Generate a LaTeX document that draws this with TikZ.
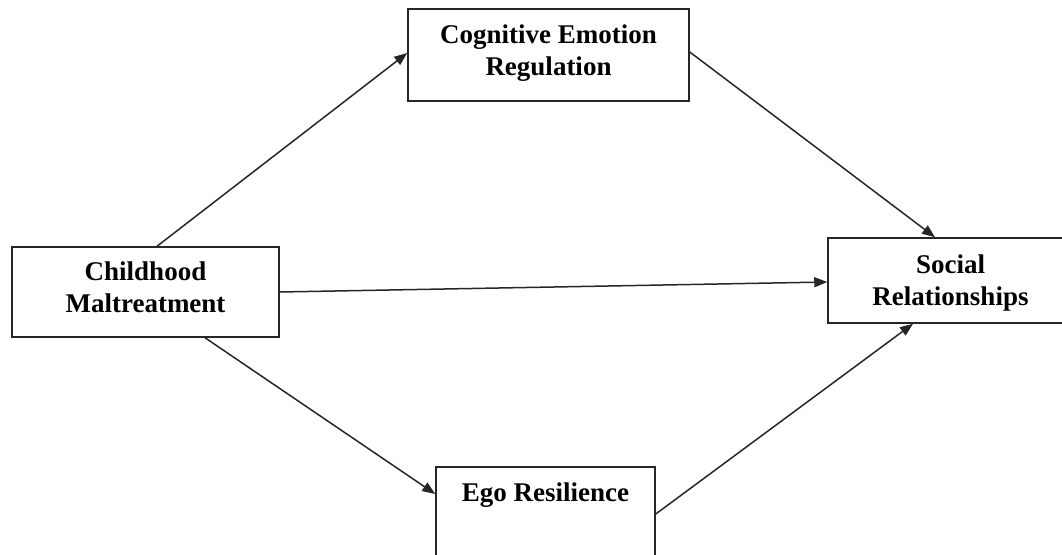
\documentclass[tikz,border=0pt]{standalone}
\usepackage{fontspec}
\setmainfont{Liberation Serif}
\usetikzlibrary{arrows.meta}

\tikzset{
  varbox/.style={draw=black!85, line width=1.5pt, rectangle, inner sep=0pt},
  varlabel/.style={inner sep=0pt, align=center, anchor=north,
    font=\fontsize{27pt}{32pt}\selectfont\bfseries},
  link/.style={draw=black!85, line width=1.5pt,
    -{Triangle[length=13pt,width=10pt]}}
}

\begin{document}
\begin{tikzpicture}[x=1pt, y=-1pt]
  \useasboundingbox (0,0) rectangle (1062,554);

  % variable boxes
  \node[varbox, minimum width=281pt, minimum height=92pt] (cer) at (548.5,55) {};
  \node[varbox, minimum width=267pt, minimum height=90pt] (cm) at (145.5,292) {};
  \node[varbox, minimum width=245pt, minimum height=85pt] (sr) at (950.5,280.5) {};
  \node[varbox, minimum width=219pt, minimum height=110pt] (er) at (545.5,522) {};

  % box labels, set from the top edge
  \node[varlabel] (cerlbl) at ([yshift=-16pt]cer.north) {Cognitive Emotion\\Regulation};
  \node[varlabel] (cmlbl) at ([yshift=-15pt]cm.north) {Childhood\\Maltreatment};
  \node[varlabel] (srlbl) at ([yshift=-17pt]sr.north) {Social\\Relationships};
  \node[varlabel] (erlbl) at ([yshift=-16pt]er.north) {Ego Resilience};

  % paths
  \draw[link] ([xshift=11.5pt]cm.north) -- ([yshift=2pt]cer.west);
  \draw[link] ([yshift=3pt]cer.east) -- ([xshift=-15.5pt]sr.north);
  \draw[link] (cm.east) -- ([yshift=-1.5pt]sr.west);
  \draw[link] ([xshift=59.5pt]cm.south) -- ([yshift=28pt]er.west);
  \draw[link] ([yshift=8pt]er.east) -- ([xshift=-37.5pt]sr.south);
\end{tikzpicture}
\end{document}
